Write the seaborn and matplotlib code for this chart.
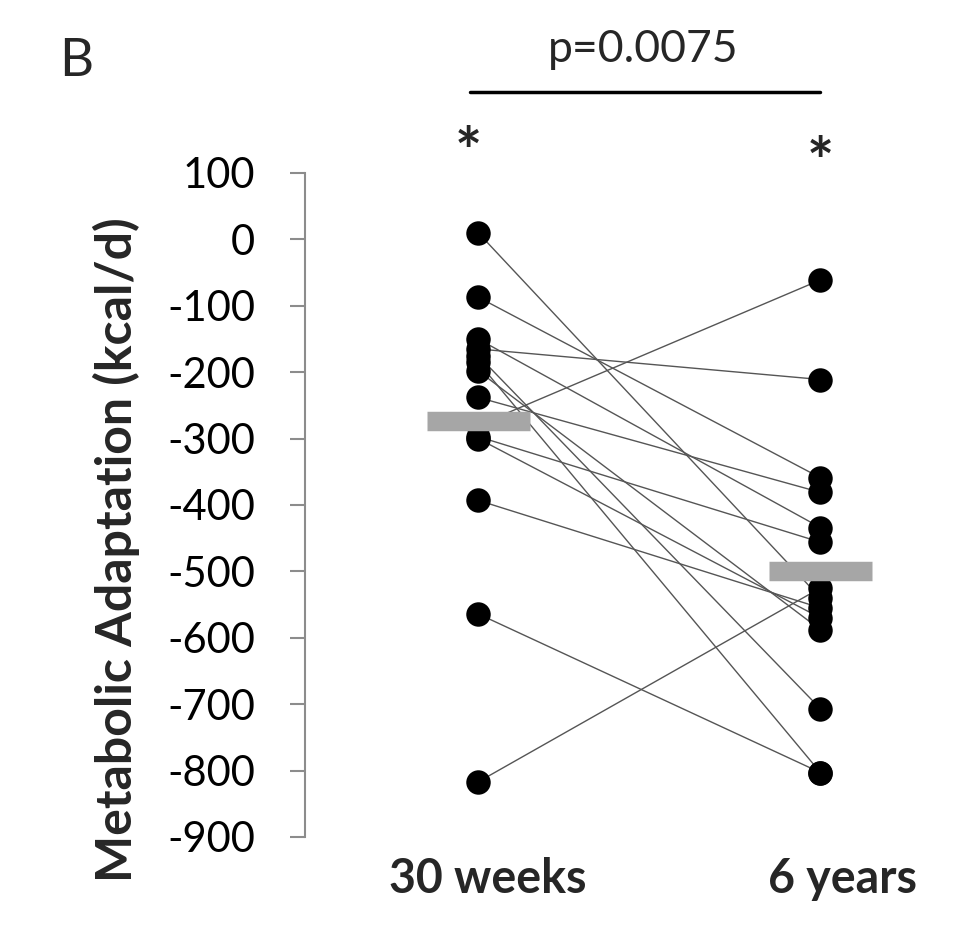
import numpy as np
import pandas as pd
import matplotlib
matplotlib.use("Agg")
import matplotlib.pyplot as plt
import matplotlib.transforms as mtransforms
import seaborn as sns

# ---- data ----
timepoints = ["30 weeks", "6 years"]
adapt_30w = [10, -87, -150, -165, -175, -185, -198, -238, -280, -297, -300, -393, -564, -817]
adapt_6y = [-540, -359, -434, -211, -707, -803, -588, -381, -61, -456, -570, -555, -803, -525]
y_ticks = [100, 0, -100, -200, -300, -400, -500, -600, -700, -800, -900]
p_text = "p=0.0075"
panel_label = "B"
y_label = "Metabolic Adaptation (kcal/d)"

n = len(adapt_30w)
df = pd.DataFrame({
    "subject": list(range(n)) * 2,
    "x": [0] * n + [1] * n,
    "value": adapt_30w + adapt_6y,
})

sns.set_theme(style="white")
plt.rcParams["font.family"] = ["Lato", "DejaVu Sans"]

fig = plt.figure(figsize=(9.8, 9.44), dpi=100)
ax = fig.add_axes([305 / 980, 1 - 837 / 944, (930 - 305) / 980, 664 / 944])

sns.lineplot(data=df, x="x", y="value", units="subject", estimator=None,
             color="#555555", lw=1.0, ax=ax, legend=False, zorder=2)
sns.scatterplot(data=df, x="x", y="value", color="black", s=310,
                edgecolor="black", linewidth=0, ax=ax, zorder=3, legend=False)

means = df.groupby("x")["value"].mean()
ax.hlines(means.values, means.index - 0.15, means.index + 0.15,
          color="#a6a6a6", lw=14, zorder=4)

ax.set_xlim(-0.506, 1.32)
ax.set_ylim(-900, 100)
ax.set_yticks(y_ticks)
ax.set_yticklabels([str(t) for t in y_ticks], fontsize=30)
ax.set_xticks([])
ax.set_xlabel("")
ax.set_ylabel("")

# category labels under the points (slightly right-shifted as in the original)
blend = mtransforms.blended_transform_factory(ax.transData, fig.transFigure)
label_shift = [0.027, 0.064]
for i, (name, dx) in enumerate(zip(timepoints, label_shift)):
    ax.text(i + dx, 1 - 893 / 944, name, transform=blend, ha="center",
            va="baseline", fontsize=33.5, fontweight="bold")

for s in ["top", "right", "bottom"]:
    ax.spines[s].set_visible(False)
ax.spines["left"].set_color("#8c8c8c")
ax.spines["left"].set_linewidth(1.5)
ax.tick_params(axis="y", which="both", left=True, length=11, width=1.5,
               color="#8c8c8c", pad=25, labelcolor="black")

fig.text(116 / 980, 1 - 550 / 944, y_label, rotation=90, ha="center", va="center",
         fontsize=36, fontweight="bold")
fig.text(76 / 980, 1 - 61 / 944, panel_label, ha="center", va="center", fontsize=38)
fig.text(643 / 980, 1 - 50 / 944, p_text, ha="center", va="center", fontsize=32)
fig.add_artist(plt.Line2D([470 / 980, 820 / 980], [1 - 92 / 944, 1 - 92 / 944],
                          color="black", lw=2.5))
ax.text(-0.03, 126, "*", ha="center", va="center", fontsize=46, fontweight="bold",
        clip_on=False)
ax.text(1.0, 112, "*", ha="center", va="center", fontsize=46, fontweight="bold",
        clip_on=False)

fig.savefig("out.png", dpi=100, facecolor="white")
